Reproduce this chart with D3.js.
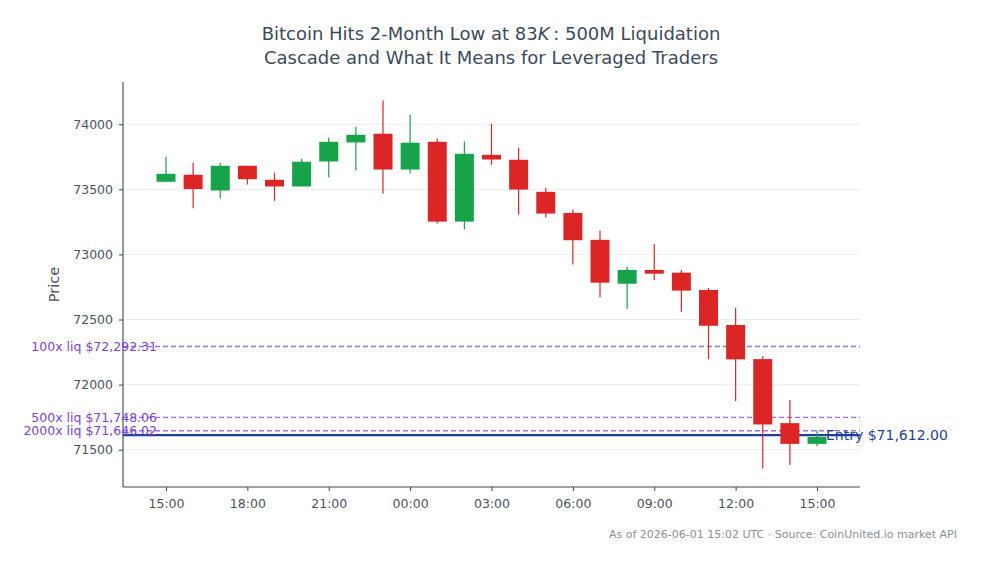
<!DOCTYPE html>
<html>
<head>
<meta charset="utf-8">
<script src="https://cdn.jsdelivr.net/npm/d3@7/dist/d3.min.js"></script>
<style>
  html, body { margin: 0; padding: 0; background: #ffffff; }
  svg { display: block; font-family: "DejaVu Sans", sans-serif; }
</style>
</head>
<body>
<svg id="chart" width="981" height="563"></svg>
<script>
// ---- Data (hourly candles, UTC) ----
const startTime = "2026-05-31T15:00:00Z";
const opens  = [73558, 73612, 73491, 73681, 73573, 73522, 73714, 73860, 73927, 73652, 73865, 73252, 73765, 73727, 73481, 73319, 73112, 72775, 72881, 72860, 72727, 72458, 72196, 71704, 71545];
const highs  = [73750, 73704, 73704, 73681, 73627, 73735, 73898, 73981, 74183, 74073, 73891, 73868, 74004, 73819, 73512, 73345, 73183, 72904, 73081, 72881, 72742, 72588, 72217, 71881, 71650];
const lows   = [73555, 73355, 73429, 73537, 73412, 73522, 73591, 73645, 73468, 73622, 73237, 73194, 73688, 73306, 73283, 72922, 72671, 72583, 72802, 72560, 72196, 71875, 71355, 71383, 71529];
const closes = [73619, 73502, 73681, 73578, 73522, 73712, 73865, 73919, 73652, 73858, 73252, 73773, 73729, 73498, 73314, 73109, 72783, 72881, 72852, 72722, 72452, 72194, 71694, 71545, 71598];

const yTicks = [71500, 72000, 72500, 73000, 73500, 74000];

const entryPrice = 71612.00;
const liqNames  = ["100x", "500x", "2000x"];
const liqPrices = [72292.31, 71748.06, 71646.02];

const titleLines = ["Bitcoin Hits 2-Month Low at ", "Cascade and What It Means for Leveraged Traders"];
const footerText = "As of 2026-06-01 15:02 UTC \u00b7 Source: CoinUnited.io market API";

// ---- Layout ----
const svg = d3.select("#chart");
const margin = { left: 123, right: 121, top: 82, bottom: 76 };
const W = 981, H = 563;
const x0 = margin.left, x1 = W - margin.right, y0 = margin.top, y1 = H - margin.bottom;

const t0 = new Date(startTime);
const candles = opens.map((o, i) => ({
  t: d3.utcHour.offset(t0, i), o, h: highs[i], l: lows[i], c: closes[i]
}));

const hourMs = 3600 * 1000;
const barW = 0.7 * hourMs;
const tMin = +candles[0].t - barW / 2, tMax = +candles[candles.length - 1].t + barW / 2;
const tPad = (tMax - tMin) * 0.05;
const x = d3.scaleUtc().domain([new Date(tMin - tPad), new Date(tMax + tPad)]).range([x0, x1]);

const vMin = d3.min(lows), vMax = d3.max(highs);
const vPad = (vMax - vMin) * 0.05;
const y = d3.scaleLinear().domain([vMin - vPad, vMax + vPad]).range([y1, y0]);

const textCol = "#4a5263";
const axisCol = "#3b4656";

// grid
svg.append("g").selectAll("line").data(yTicks).join("line")
  .attr("x1", x0).attr("x2", x1)
  .attr("y1", d => y(d)).attr("y2", d => y(d))
  .attr("stroke", "#e8e8ee").attr("stroke-width", 0.8);

// liquidation lines
liqPrices.forEach((p, i) => {
  svg.append("line")
    .attr("x1", x0).attr("x2", x1).attr("y1", y(p)).attr("y2", y(p))
    .attr("stroke", "#9b6fe3").attr("stroke-width", 1.4)
    .attr("stroke-dasharray", "5,3");
});

// entry line
svg.append("line")
  .attr("x1", x0).attr("x2", x1).attr("y1", y(entryPrice)).attr("y2", y(entryPrice))
  .attr("stroke", "#1e3fa0").attr("stroke-width", 2.2);

// candles
const up = "#16a34a", down = "#dc2626";
const bw = x(new Date(+t0 + barW)) - x(t0);
const cg = svg.append("g");
cg.selectAll("line.wick").data(candles).join("line")
  .attr("class", "wick")
  .attr("x1", d => x(d.t)).attr("x2", d => x(d.t))
  .attr("y1", d => y(d.h)).attr("y2", d => y(d.l))
  .attr("stroke", d => d.c >= d.o ? up : down).attr("stroke-width", 1.2);
cg.selectAll("rect").data(candles).join("rect")
  .attr("x", d => x(d.t) - bw / 2).attr("width", bw)
  .attr("y", d => y(Math.max(d.o, d.c)))
  .attr("height", d => Math.max(1, Math.abs(y(d.o) - y(d.c))))
  .attr("fill", d => d.c >= d.o ? up : down);

// axes
const yAxis = d3.axisLeft(y).tickValues(yTicks).tickFormat(d3.format("d")).tickSize(4).tickPadding(6);
const gy = svg.append("g").attr("transform", `translate(${x0},0)`).call(yAxis);
const xAxis = d3.axisBottom(x).ticks(d3.utcHour.every(3)).tickFormat(d3.utcFormat("%H:%M")).tickSize(4).tickPadding(8);
const gx = svg.append("g").attr("transform", `translate(0,${y1})`).call(xAxis);
[gx, gy].forEach(g => {
  g.select(".domain").attr("stroke", axisCol).attr("stroke-width", 1.1);
  g.selectAll(".tick line").attr("stroke", axisCol);
  g.selectAll(".tick text").attr("fill", textCol).style("font-size", "12.5px").style("font-family", "DejaVu Sans");
});
gy.select(".domain").attr("d", `M0,${y1}V${y0}`);
gx.select(".domain").attr("d", `M${x0},0H${x1}`);

// liquidation labels
liqPrices.forEach((p, i) => {
  svg.append("text")
    .attr("x", x(t0) - 9).attr("y", y(p)).attr("dy", "0.35em")
    .attr("text-anchor", "end")
    .attr("fill", "#7d3fd8").style("font-size", "12.5px")
    .text(`${liqNames[i]} liq $${d3.format(",.2f")(p)}`);
});

// entry label
svg.append("text")
  .attr("x", x(candles[candles.length - 1].t) + 9).attr("y", y(entryPrice)).attr("dy", "0.35em")
  .attr("fill", "#1e3fa0").style("font-size", "14px")
  .text(`Entry $${d3.format(",.2f")(entryPrice)}`);

// y label
svg.append("text")
  .attr("transform", `translate(59,${(y0 + y1) / 2}) rotate(-90)`)
  .attr("text-anchor", "middle").attr("fill", textCol).style("font-size", "14.5px")
  .text("Price");

// title
const titleCol = "#3d4a5c";
const t1 = svg.append("text").attr("x", 491).attr("y", 40).attr("text-anchor", "middle")
  .attr("fill", titleCol).style("font-size", "18px");
t1.append("tspan").text(titleLines[0] + "83");
t1.append("tspan").style("font-style", "italic").text("K");
t1.append("tspan").text("\u2009: 500M Liquidation");
svg.append("text").attr("x", 491).attr("y", 64).attr("text-anchor", "middle")
  .attr("fill", titleCol).style("font-size", "18px").text(titleLines[1]);

// footer
svg.append("text").attr("x", 957).attr("y", 538).attr("text-anchor", "end")
  .attr("fill", "#8a8f98").style("font-size", "11px").text(footerText);
</script>
</body>
</html>
